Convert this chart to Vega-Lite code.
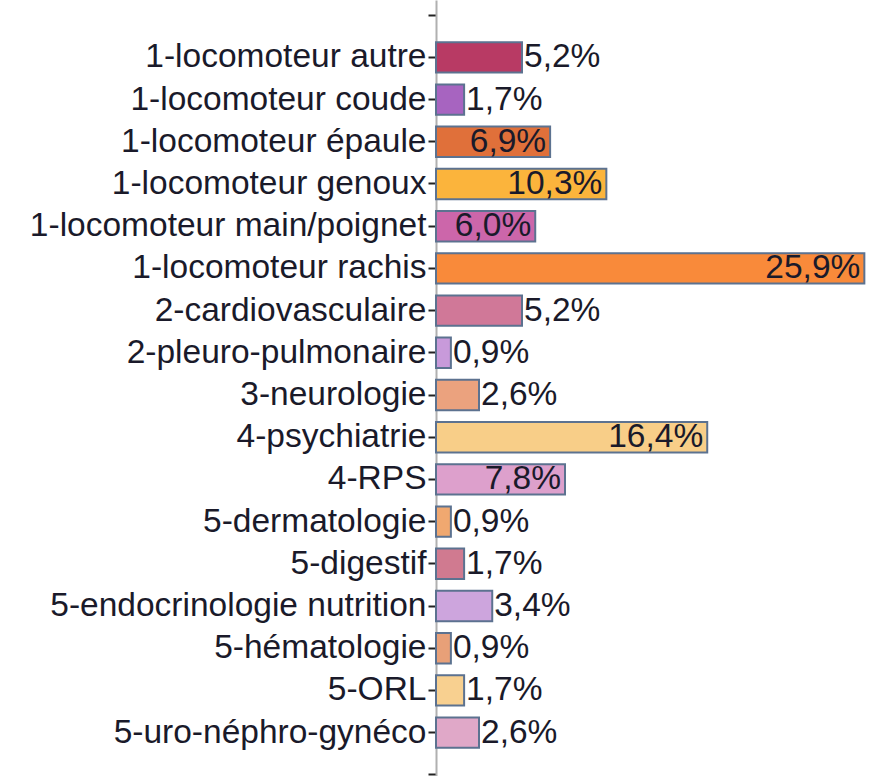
{
  "$schema": "https://vega.github.io/schema/vega-lite/v6.json",
  "width": 430,
  "height": 790,
  "padding": {"left": 29, "top": -3, "right": 0, "bottom": 0},
  "background": "white",
  "config": {
    "view": {"stroke": null},
    "locale": {"number": {"decimal": ",", "thousands": " ", "grouping": [3], "currency": ["", " €"]}},
    "font": "Liberation Sans"
  },
  "data": {
    "values": [
      {"cat": "1-locomoteur autre", "v": 0.052, "color": "#B83A64"},
      {"cat": "1-locomoteur coude", "v": 0.017, "color": "#A764C0"},
      {"cat": "1-locomoteur épaule", "v": 0.069, "color": "#E0703A"},
      {"cat": "1-locomoteur genoux", "v": 0.103, "color": "#FBB43C"},
      {"cat": "1-locomoteur main/poignet", "v": 0.060, "color": "#CC66AA"},
      {"cat": "1-locomoteur rachis", "v": 0.259, "color": "#F98A3A"},
      {"cat": "2-cardiovasculaire", "v": 0.052, "color": "#D07898"},
      {"cat": "2-pleuro-pulmonaire", "v": 0.009, "color": "#C89ADA"},
      {"cat": "3-neurologie", "v": 0.026, "color": "#EBA27E"},
      {"cat": "4-psychiatrie", "v": 0.164, "color": "#F8CE88"},
      {"cat": "4-RPS", "v": 0.078, "color": "#DDA0CC"},
      {"cat": "5-dermatologie", "v": 0.009, "color": "#F0A870"},
      {"cat": "5-digestif", "v": 0.017, "color": "#D07A90"},
      {"cat": "5-endocrinologie nutrition", "v": 0.034, "color": "#CDA5DD"},
      {"cat": "5-hématologie", "v": 0.009, "color": "#E8A078"},
      {"cat": "5-ORL", "v": 0.017, "color": "#F8D090"},
      {"cat": "5-uro-néphro-gynéco", "v": 0.026, "color": "#E0A8C8"}
    ]
  },
  "encoding": {
    "y": {
      "field": "cat",
      "type": "nominal",
      "sort": null,
      "scale": {
        "domain": [" ", "1-locomoteur autre", "1-locomoteur coude", "1-locomoteur épaule", "1-locomoteur genoux", "1-locomoteur main/poignet", "1-locomoteur rachis", "2-cardiovasculaire", "2-pleuro-pulmonaire", "3-neurologie", "4-psychiatrie", "4-RPS", "5-dermatologie", "5-digestif", "5-endocrinologie nutrition", "5-hématologie", "5-ORL", "5-uro-néphro-gynéco", "  "],
        "paddingInner": 0.28,
        "paddingOuter": 0
      },
      "axis": {
        "title": null,
        "labelFont": "Liberation Sans",
        "labelFontSize": 33.5,
        "labelColor": "#1a1a2a",
        "labelPadding": 2,
        "tickSize": 8,
        "tickColor": "#222222",
        "tickWidth": 2,
        "domainColor": "#b0b0b0",
        "domainWidth": 2,
        "labelLimit": 700
      }
    },
    "x": {
      "field": "v",
      "type": "quantitative",
      "scale": {"domain": [0, 0.26], "nice": false, "zero": true},
      "axis": null
    }
  },
  "layer": [
    {
      "mark": {"type": "bar", "stroke": "#5C7290", "strokeWidth": 2},
      "encoding": {
        "color": {"field": "color", "type": "nominal", "scale": null}
      }
    },
    {
      "transform": [{"filter": "datum.v > 0.055"}],
      "mark": {"type": "text", "align": "right", "dx": -4, "fontSize": 33.5, "font": "Liberation Sans", "color": "#1a1a2a", "baseline": "middle"},
      "encoding": {"text": {"field": "v", "type": "quantitative", "format": ".1%"}}
    },
    {
      "transform": [{"filter": "datum.v <= 0.055"}],
      "mark": {"type": "text", "align": "left", "dx": 2, "fontSize": 33.5, "font": "Liberation Sans", "color": "#1a1a2a", "baseline": "middle"},
      "encoding": {"text": {"field": "v", "type": "quantitative", "format": ".1%"}}
    }
  ]
}
